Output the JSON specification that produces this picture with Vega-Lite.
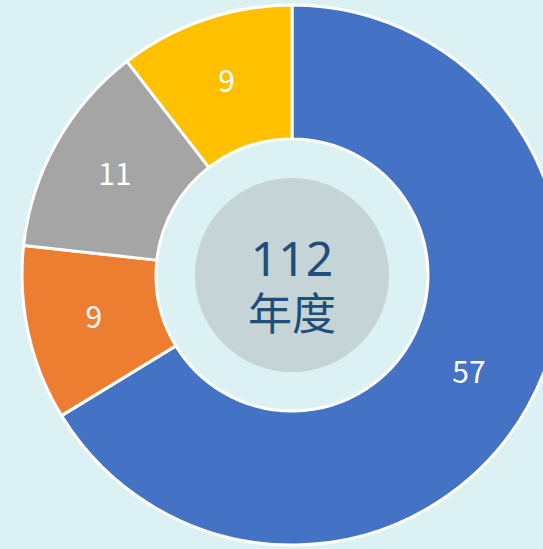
{
  "$schema": "https://vega.github.io/schema/vega-lite/v6.json",
  "width": 584,
  "height": 550,
  "autosize": {"type": "none"},
  "padding": {"left": 0, "top": 0, "right": -41, "bottom": -1},
  "background": "#dbf1f3",
  "view": {"stroke": null},
  "data": {"values": [
    {"cat": "A", "value": 57, "ord": 1},
    {"cat": "B", "value": 9, "ord": 2},
    {"cat": "C", "value": 11, "ord": 3},
    {"cat": "D", "value": 9, "ord": 4}
  ]},
  "layer": [
    {
      "mark": {"type": "arc", "outerRadius": 270, "innerRadius": 136, "stroke": "white", "strokeWidth": 3},
      "encoding": {
        "theta": {"field": "value", "type": "quantitative", "stack": true},
        "order": {"field": "ord", "type": "quantitative"},
        "color": {"field": "cat", "type": "nominal", "legend": null,
          "scale": {"domain": ["A", "B", "C", "D"], "range": ["#4472C4", "#ED7D31", "#A5A5A5", "#FFC000"]}}
      }
    },
    {
      "mark": {"type": "text", "radius": 203, "fontSize": 30, "fill": "white", "font": "Noto Sans CJK TC"},
      "encoding": {
        "theta": {"field": "value", "type": "quantitative", "stack": true},
        "order": {"field": "ord", "type": "quantitative"},
        "text": {"field": "value", "type": "quantitative"}
      }
    },
    {
      "data": {"values": [{"v": 1}]},
      "layer": [
        {
          "mark": {"type": "arc", "outerRadius": 97, "innerRadius": 0, "fill": "#c5d4d6"},
          "encoding": {"theta": {"field": "v", "type": "quantitative", "scale": {"domain": [0, 1]}}}
        }
      ],
      "resolve": {"scale": {"theta": "independent"}}
    },
    {
      "data": {"values": [{"t1": "112", "t2": "年度"}]},
      "layer": [
        {
          "mark": {"type": "text", "fontSize": 48, "fill": "#1F4E79", "font": "Noto Sans", "baseline": "alphabetic", "dy": 1},
          "encoding": {"text": {"field": "t1", "type": "nominal"}}
        },
        {
          "mark": {"type": "text", "fontSize": 44, "fill": "#1F4E79", "font": "Noto Sans CJK TC", "baseline": "middle", "dy": 42},
          "encoding": {"text": {"field": "t2", "type": "nominal"}}
        }
      ]
    }
  ],
  "resolve": {"scale": {"theta": "independent"}}
}
